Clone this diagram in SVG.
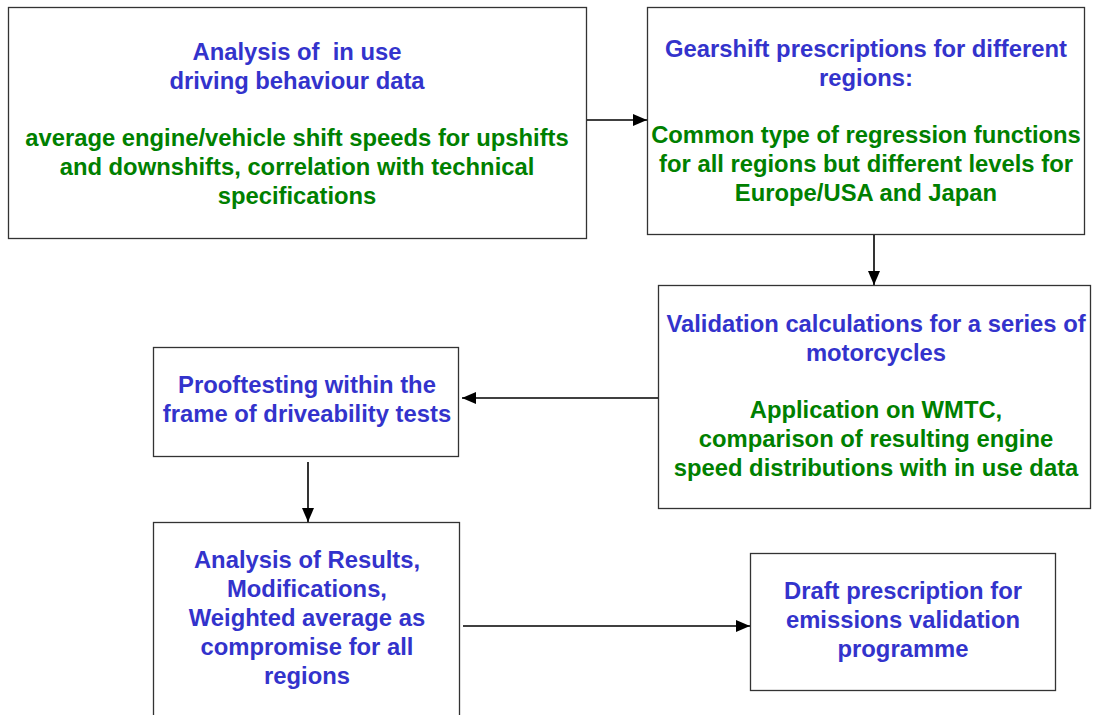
<svg xmlns="http://www.w3.org/2000/svg" width="1096" height="715" viewBox="0 0 1096 715">
<defs>
<style>
.box{fill:#fff;stroke:#333;stroke-width:1.3}
text{font-family:"Liberation Sans",Arial,sans-serif;font-weight:bold;font-size:23.8px;text-anchor:middle;white-space:pre}
.b{fill:#3333cc}
.g{fill:#008000}
.c{stroke:#000;stroke-width:1.6;fill:none}
</style>
<marker id="ah" markerWidth="14" markerHeight="12" refX="14" refY="6" orient="auto" markerUnits="userSpaceOnUse" viewBox="0 0 14 12">
<path d="M0,0 L14,6 L0,12 z" fill="#000"/>
</marker>
</defs>
<rect width="1096" height="715" fill="#fff"/>
<g id="n1">
<rect class="box" x="8.5" y="7.5" width="578" height="231"/>
<text class="b" x="297" y="60" xml:space="preserve">Analysis of  in use</text>
<text class="b" x="297" y="89">driving behaviour data</text>
<text class="g" x="297" y="146">average engine/vehicle shift speeds for upshifts</text>
<text class="g" x="297" y="175">and downshifts, correlation with technical</text>
<text class="g" x="297" y="204">specifications</text>
</g>
<g id="n2">
<rect class="box" x="647.5" y="7.5" width="437" height="227"/>
<text class="b" x="866" y="57">Gearshift prescriptions for different</text>
<text class="b" x="866" y="86">regions:</text>
<text class="g" x="866" y="143">Common type of regression functions</text>
<text class="g" x="866" y="172">for all regions but different levels for</text>
<text class="g" x="866" y="201">Europe/USA and Japan</text>
</g>
<g id="n3">
<rect class="box" x="658.5" y="285.5" width="432" height="223"/>
<text class="b" x="876" y="332">Validation calculations for a series of</text>
<text class="b" x="876" y="361">motorcycles</text>
<text class="g" x="876" y="418">Application on WMTC,</text>
<text class="g" x="876" y="447">comparison of resulting engine</text>
<text class="g" x="876" y="476">speed distributions with in use data</text>
</g>
<g id="n4">
<rect class="box" x="153.5" y="347.5" width="305" height="109"/>
<text class="b" x="307" y="393">Prooftesting within the</text>
<text class="b" x="307" y="422">frame of driveability tests</text>
</g>
<g id="n5">
<rect class="box" x="153.5" y="522.5" width="306" height="200"/>
<text class="b" x="307" y="568">Analysis of Results,</text>
<text class="b" x="307" y="597">Modifications,</text>
<text class="b" x="307" y="626">Weighted average as</text>
<text class="b" x="307" y="655">compromise for all</text>
<text class="b" x="307" y="684">regions</text>
</g>
<g id="n6">
<rect class="box" x="750.5" y="553.5" width="305" height="137"/>
<text class="b" x="903" y="599">Draft prescription for</text>
<text class="b" x="903" y="628">emissions validation</text>
<text class="b" x="903" y="657">programme</text>
</g>
<g id="connectors">
<line class="c" x1="587" y1="120" x2="647" y2="120" marker-end="url(#ah)"/>
<line class="c" x1="874" y1="235" x2="874" y2="285" marker-end="url(#ah)"/>
<line class="c" x1="658" y1="398" x2="462" y2="398" marker-end="url(#ah)"/>
<line class="c" x1="308" y1="462" x2="308" y2="522" marker-end="url(#ah)"/>
<line class="c" x1="463" y1="626" x2="750" y2="626" marker-end="url(#ah)"/>
</g>
</svg>
